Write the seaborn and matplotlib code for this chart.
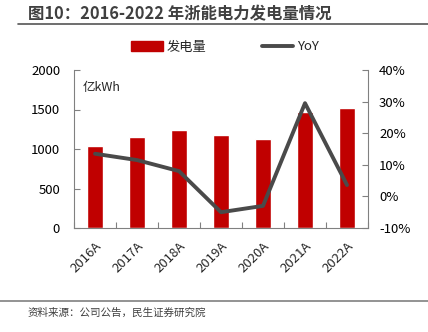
import matplotlib
matplotlib.use("Agg")
import matplotlib.pyplot as plt
import seaborn as sns
import pandas as pd
from matplotlib.lines import Line2D
from matplotlib.patches import Patch

years = ["2016A", "2017A", "2018A", "2019A", "2020A", "2021A", "2022A"]
generation = [1040, 1150, 1240, 1175, 1130, 1470, 1515]
yoy = [13.5, 11.5, 8.0, -5.0, -3.0, 29.5, 3.6]
yoy_ticks = [-10, 0, 10, 20, 30, 40]

sns.set_theme(style="white")
plt.rcParams['font.family'] = ['Noto Sans CJK SC', 'DejaVu Sans']
plt.rcParams['axes.unicode_minus'] = False

df = pd.DataFrame({"year": years, "gen": generation, "yoy": yoy})

fig = plt.figure(figsize=(4.28, 3.32), dpi=100)
ax = fig.add_axes([74/428, 1-228/332, (368-74)/428, (228-70)/332])

red = "#C00000"
gray = "#4A4A4A"
sns.barplot(data=df, x="year", y="gen", color=red, width=0.4, ax=ax, saturation=1)
ax.set_ylim(0, 2000)
ax.set_yticks([0, 500, 1000, 1500, 2000])
ax.set_xlim(-0.5, 6.5)
ax.set_xlabel("")
ax.set_ylabel("")

ax2 = ax.twinx()
sns.lineplot(data=df, x="year", y="yoy", color=gray, linewidth=2.8, ax=ax2, sort=False)
ax2.set_ylim(-10, 40)
ax2.set_yticks(yoy_ticks)
ax2.set_yticklabels([f"{v}%" for v in yoy_ticks])
ax2.set_ylabel("")
ax2.set_xlim(-0.5, 6.5)

for a in (ax, ax2):
    for s in a.spines.values():
        s.set_visible(False)
ax.spines['left'].set_visible(True)
ax.spines['bottom'].set_visible(True)
ax2.spines['right'].set_visible(True)
for s in (ax.spines['left'], ax.spines['bottom'], ax2.spines['right']):
    s.set_color("#808080")
    s.set_linewidth(0.8)

ax.tick_params(axis='y', left=True, direction='in', length=4, color="#808080", width=0.8,
               labelsize=9.5, labelcolor="black", pad=10)
ax.set_xticks(range(len(years)))
ax.set_xticklabels(years, rotation=45, ha="right", rotation_mode="anchor", fontsize=9.5)
ax.set_xticks([i + 0.5 for i in range(-1, 7)], minor=True)
ax.tick_params(axis='x', which='major', bottom=False, pad=2)
ax.tick_params(axis='x', which='minor', bottom=True, direction='in', length=4, color="#808080", width=0.8)
ax2.tick_params(axis='y', right=True, direction='in', length=4, color="#808080", width=0.8,
                labelsize=9.5, labelcolor="black", pad=8)

ax.text(0.03, 0.93, "亿kWh", transform=ax.transAxes, fontsize=9, va="top", ha="left")

handles = [Patch(facecolor=red, edgecolor=red), Line2D([0], [0], color=gray, lw=2.8)]
fig.legend(handles, ["发电量", "YoY"], loc="center", bbox_to_anchor=(225/428, 1-47/332),
           ncol=2, frameon=False, fontsize=9.5, columnspacing=4.2, handlelength=2.4,
           handletextpad=0.3)

fig.text(28/428, 1-14/332, "图10：2016-2022 年浙能电力发电量情况", fontsize=11.8,
         fontweight="bold", color="#404040", va="center", ha="left")
fig.add_artist(Line2D([18/428, 1], [1-24/332, 1-24/332], color="#555555", lw=1.2))
fig.add_artist(Line2D([0, 1], [1-301/332, 1-301/332], color="#808080", lw=1.2))
fig.text(28/428, 1-313/332, "资料来源：公司公告，民生证券研究院", fontsize=7.6,
         color="#404040", va="center", ha="left")

fig.savefig("out.png", dpi=100)
